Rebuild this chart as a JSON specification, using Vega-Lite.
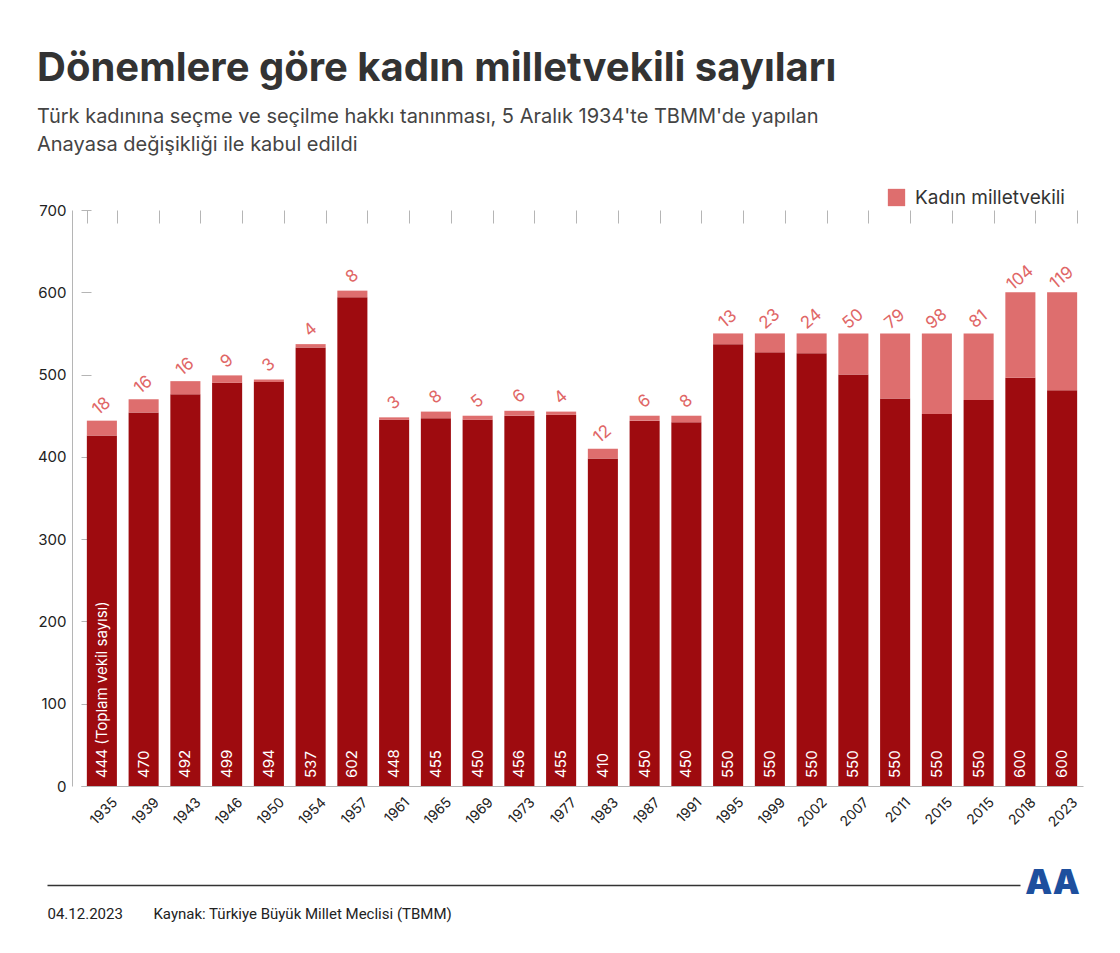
{
  "$schema": "https://vega.github.io/schema/vega-lite/v6.json",
  "width": 1002,
  "height": 576,
  "autosize": "none",
  "padding": {"left": 81, "top": 210, "right": 37, "bottom": 167},
  "background": "white",
  "title": {
    "text": "Dönemlere göre kadın milletvekili sayıları",
    "subtitle": ["Türk kadınına seçme ve seçilme hakkı tanınması, 5 Aralık 1934'te TBMM'de yapılan", "Anayasa değişikliği ile kabul edildi"],
    "anchor": "start",
    "frame": "group",
    "dx": -44,
    "offset": 33,
    "font": "Inter",
    "fontSize": 40,
    "fontWeight": 700,
    "color": "#333333",
    "subtitleFont": "Inter",
    "subtitleFontSize": 20,
    "subtitleColor": "#444444",
    "subtitlePadding": 18,
    "subtitleLineHeight": 28
  },
  "config": {"view": {"stroke": null}, "font": "Inter"},
  "data": {
    "values": [
      {"donem": "1935", "erkek": 426, "kadin": 18, "toplam": 444, "etiket": "444 (Toplam vekil sayısı)"},
      {"donem": "1939", "erkek": 454, "kadin": 16, "toplam": 470, "etiket": "470"},
      {"donem": "1943", "erkek": 476, "kadin": 16, "toplam": 492, "etiket": "492"},
      {"donem": "1946", "erkek": 490, "kadin": 9, "toplam": 499, "etiket": "499"},
      {"donem": "1950", "erkek": 491, "kadin": 3, "toplam": 494, "etiket": "494"},
      {"donem": "1954", "erkek": 533, "kadin": 4, "toplam": 537, "etiket": "537"},
      {"donem": "1957", "erkek": 594, "kadin": 8, "toplam": 602, "etiket": "602"},
      {"donem": "1961", "erkek": 445, "kadin": 3, "toplam": 448, "etiket": "448"},
      {"donem": "1965", "erkek": 447, "kadin": 8, "toplam": 455, "etiket": "455"},
      {"donem": "1969", "erkek": 445, "kadin": 5, "toplam": 450, "etiket": "450"},
      {"donem": "1973", "erkek": 450, "kadin": 6, "toplam": 456, "etiket": "456"},
      {"donem": "1977", "erkek": 451, "kadin": 4, "toplam": 455, "etiket": "455"},
      {"donem": "1983", "erkek": 398, "kadin": 12, "toplam": 410, "etiket": "410"},
      {"donem": "1987", "erkek": 444, "kadin": 6, "toplam": 450, "etiket": "450"},
      {"donem": "1991", "erkek": 442, "kadin": 8, "toplam": 450, "etiket": "450"},
      {"donem": "1995", "erkek": 537, "kadin": 13, "toplam": 550, "etiket": "550"},
      {"donem": "1999", "erkek": 527, "kadin": 23, "toplam": 550, "etiket": "550"},
      {"donem": "2002", "erkek": 526, "kadin": 24, "toplam": 550, "etiket": "550"},
      {"donem": "2007", "erkek": 500, "kadin": 50, "toplam": 550, "etiket": "550"},
      {"donem": "2011", "erkek": 471, "kadin": 79, "toplam": 550, "etiket": "550"},
      {"donem": "2015", "erkek": 452, "kadin": 98, "toplam": 550, "etiket": "550"},
      {"donem": "2015\u200b", "erkek": 469, "kadin": 81, "toplam": 550, "etiket": "550"},
      {"donem": "2018", "erkek": 496, "kadin": 104, "toplam": 600, "etiket": "600"},
      {"donem": "2023", "erkek": 481, "kadin": 119, "toplam": 600, "etiket": "600"}
    ]
  },
  "layer": [
    {
      "encoding": {
        "x": {
          "field": "donem",
          "type": "ordinal",
          "sort": null,
          "scale": {"paddingInner": 0.28, "paddingOuter": 0.14},
          "axis": {
            "orient": "bottom",
            "labelAngle": -45,
            "labelFontSize": 14,
            "labelColor": "#222222",
            "labelOffset": 8,
            "labelPadding": 9,
            "ticks": false,
            "grid": true,
            "tickBand": "extent",
            "gridDash": [13, 3000],
            "gridColor": "#b5b5b5",
            "domainColor": "#b5b5b5",
            "title": "04.12.2023\u2003\u2003Kaynak: Türkiye Büyük Millet Meclisi (TBMM)",
            "titleX": -34,
            "titleY": 132,
            "titleAlign": "left",
            "titleAnchor": "start",
            "titleBaseline": "alphabetic",
            "titleFont": "Roboto",
            "titleFontSize": 15,
            "titleFontWeight": "normal",
            "titleColor": "#222222"
          }
        }
      },
      "layer": [
        {
          "mark": {"type": "bar", "color": "#9e0b0f"},
          "encoding": {
            "y": {
              "field": "erkek",
              "type": "quantitative",
              "scale": {"domain": [0, 700]},
              "axis": {
                "values": [0, 100, 200, 300, 400, 500, 600, 700],
                "grid": true,
                "gridDash": [10, 3000],
                "gridColor": "#b5b5b5",
                "ticks": false,
                "title": null,
                "offset": 9,
                "domainColor": "#b5b5b5",
                "labelPadding": 6,
                "labelFontSize": 15,
                "labelColor": "#222222"
              }
            }
          }
        },
        {
          "mark": {"type": "bar", "color": "#de6e6e"},
          "encoding": {
            "y": {"field": "erkek", "type": "quantitative"},
            "y2": {"field": "toplam"},
            "color": {
              "datum": "Kadın milletvekili",
              "scale": {"range": ["#de6e6e"]},
              "legend": {
                "orient": "none",
                "legendX": 806,
                "legendY": -22,
                "title": null,
                "symbolType": "square",
                "symbolSize": 300,
                "symbolStrokeWidth": 0,
                "symbolOpacity": 1,
                "labelFontSize": 19,
                "labelColor": "#333333",
                "labelOffset": 9
              }
            }
          }
        },
        {
          "mark": {"type": "text", "color": "#e06666", "fontSize": 17, "angle": -40, "align": "center", "baseline": "middle", "dx": 9, "dy": -11},
          "encoding": {
            "y": {"field": "toplam", "type": "quantitative"},
            "text": {"field": "kadin", "type": "quantitative"}
          }
        },
        {
          "mark": {"type": "text", "color": "white", "fontSize": 15, "angle": 270, "align": "left", "baseline": "middle", "dx": 8},
          "encoding": {
            "y": {"datum": 0, "type": "quantitative"},
            "text": {"field": "etiket", "type": "nominal"}
          }
        }
      ]
    },
    {
      "mark": {"type": "rule", "opacity": 0},
      "encoding": {
        "x": {
          "datum": 0,
          "type": "quantitative",
          "scale": {"domain": [0, 1], "range": [-34, 939]},
          "axis": {
            "orient": "bottom",
            "offset": 99,
            "ticks": false,
            "labels": false,
            "grid": false,
            "domainColor": "#333333",
            "domainWidth": 1.5,
            "title": "AA",
            "titleX": 971,
            "titleY": -2,
            "titleAlign": "center",
            "titleBaseline": "middle",
            "titleFont": "Inter",
            "titleFontSize": 34,
            "titleFontWeight": 900,
            "titleColor": "#1d4f9e"
          }
        }
      }
    }
  ],
  "resolve": {"scale": {"x": "independent"}, "axis": {"x": "independent"}}
}
